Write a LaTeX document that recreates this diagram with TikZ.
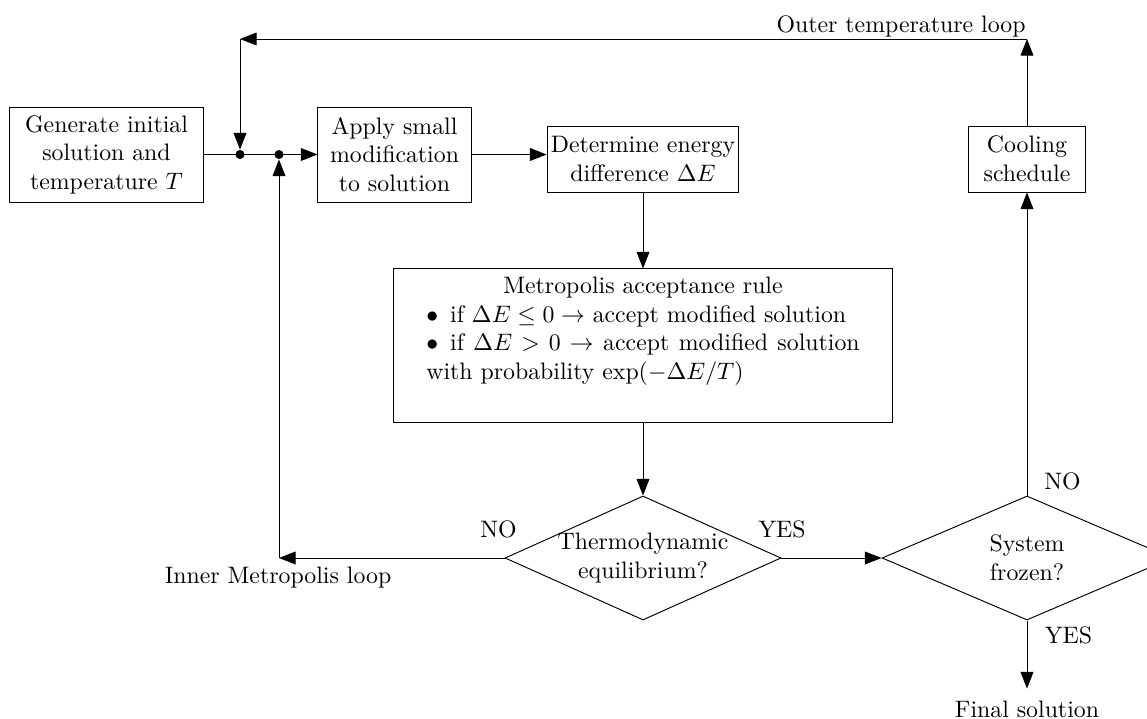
\documentclass[tikz,border=0pt]{standalone}
\usetikzlibrary{arrows.meta,shapes.geometric,calc}
\begin{document}
\begin{tikzpicture}[x=0.42pt,y=-0.42pt,
  line width=0.4pt,
  arr/.style={-{Triangle[length=7pt,width=5.4pt]}},
  box/.style={draw,align=center,inner sep=1pt},
  cond/.style={draw,shape=diamond,align=center,inner sep=-1pt},
  junction/.style={circle,fill,inner sep=0pt,minimum size=3.8pt},
  lbl/.style={inner sep=0pt,anchor=base}]
\useasboundingbox (0,0) rectangle (1147,719);

% process blocks
\node[box,minimum width=81.1pt,minimum height=39.9pt] (init) at (106.5,154.5)
  {Generate initial\\solution and\\temperature $T$};
\node[box,minimum width=64.3pt,minimum height=39.9pt] (app) at (394.5,154.5)
  {Apply small\\modification\\to solution};
\node[box,minimum width=80.6pt,minimum height=27.7pt] (dE) at (643,159)
  {Determine energy\\difference $\Delta E$};
\node[box,minimum width=49.1pt,minimum height=27.7pt] (cool) at (1027,159)
  {Cooling\\schedule};
\node[draw,minimum width=209.2pt,minimum height=64.3pt,text width=182pt,align=justify] (metro) at (643,345.5)
  {{\centering Metropolis acceptance rule\par}
   \hangindent=10pt\hangafter=1\noindent\makebox[10pt][l]{$\bullet$}if $\Delta E\le 0\to$ accept modified solution\par
   \hangindent=10pt\hangafter=1\noindent\makebox[10pt][l]{$\bullet$}if $\Delta E > 0 \to$ accept modified solution with probability $\exp(-\Delta E/T)$\rule[-14.5pt]{0pt}{14.5pt}};

% decisions
\node[cond,aspect=2.23,minimum width=115.9pt,minimum height=52.1pt] (eq) at (643,558)
  {Thermodynamic\\equilibrium?};
\node[cond,aspect=2.34,minimum width=121.8pt,minimum height=52.1pt] (frz) at (1027,558)
  {System\\frozen?};

% junctions on the main line
\node[junction] (j1) at (240,154.5) {};
\node[junction] (j2) at (279,154.5) {};

% loop corners
\coordinate (tl) at (240,39);
\coordinate (tr) at (1027,39);
\coordinate (bl) at (279,558);

% labels
\node[lbl,anchor=base east] (outerlbl) at (1026,33) {Outer temperature loop};
\node[lbl] (innerlbl) at (278,583) {Inner Metropolis loop};
\node[lbl] (no1) at (498.5,537) {NO};
\node[lbl] (yes1) at (782,537) {YES};
\node[lbl] (no2) at (1062.5,489) {NO};
\node[lbl] (yes2) at (1068.5,643) {YES};
\node[anchor=base,inner xsep=0pt,inner ysep=4.8pt] (final) at (1027,717) {Final solution};

% forward flow
\draw[arr] (init.east) -- (init.east -| app.west);
\draw[arr] (app.east) -- (app.east -| dE.west);
\draw[arr] (dE.south) -- (metro.north);
\draw[arr] (metro.south) -- (eq.north);
\draw[arr] (eq.east) -- (frz.west);
\draw[arr] (frz.south) -- (final.north);

% inner Metropolis loop
\draw[arr] (eq.west) -- (bl);
\draw[arr] (bl) -- (j2);

% outer temperature loop
\draw[arr] (frz.north) -- (cool.south);
\draw[arr] (cool.north) -- (tr);
\draw[arr] (tr) -- (tl);
\draw[arr] (tl) -- (j1);
\end{tikzpicture}
\end{document}
